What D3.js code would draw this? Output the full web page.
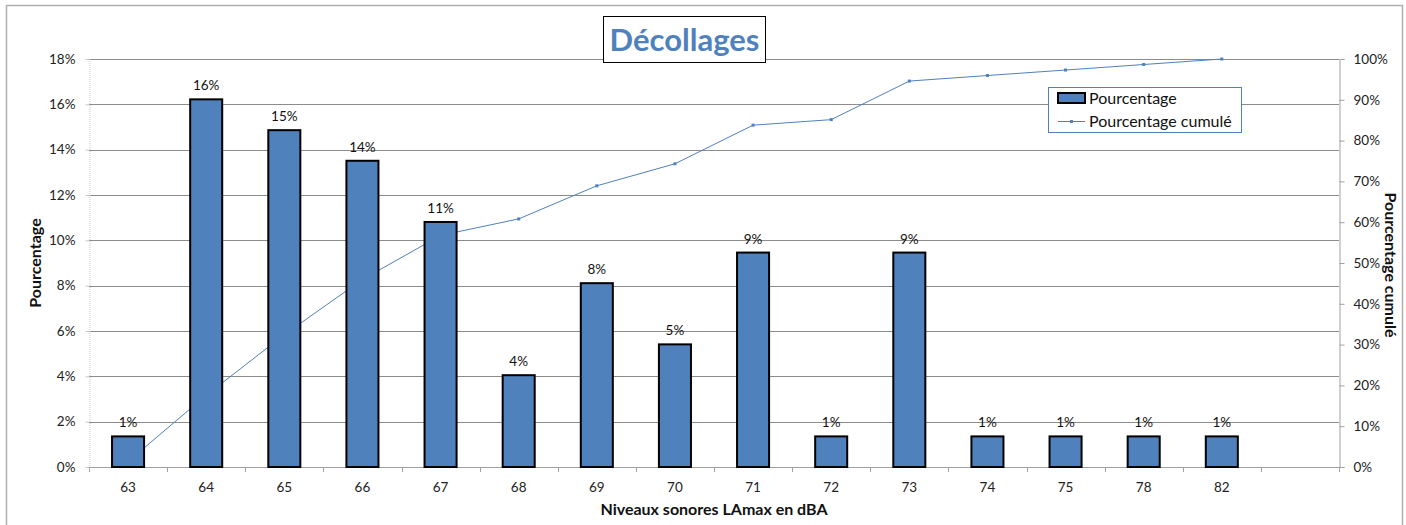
<!DOCTYPE html>
<html>
<head>
<meta charset="utf-8">
<script src="https://cdn.jsdelivr.net/npm/d3@7"></script>
<style>
html,body{margin:0;padding:0;background:#fff;}
svg{display:block;font-family:Lato,"Open Sans",sans-serif;}
</style>
</head>
<body>
<svg id="chart" width="1406" height="525"></svg>
<script>
const categories = ["63","64","65","66","67","68","69","70","71","72","73","74","75","78","82"];
const pourcentage = [1.35,16.22,14.86,13.51,10.81,4.05,8.11,5.41,9.46,1.35,9.46,1.35,1.35,1.35,1.35];
const barLabels = ["1%","16%","15%","14%","11%","4%","8%","5%","9%","1%","9%","1%","1%","1%","1%"];
const cumule = [1.35,17.57,32.43,45.95,56.76,60.81,68.92,74.32,83.78,85.14,94.59,95.95,97.30,98.65,100];
const leftTicks = [0,2,4,6,8,10,12,14,16,18];
const rightTicks = [0,10,20,30,40,50,60,70,80,90,100];
const title = "Décollages";
const xTitle = "Niveaux sonores LAmax en dBA";
const yLeftTitle = "Pourcentage";
const yRightTitle = "Pourcentage cumulé";
const legendLabels = ["Pourcentage","Pourcentage cumulé"];

const svg = d3.select("#chart");
const L = 89, R = 1339, T = 59, B = 467;
const blue = "#4F81BD";
const grid = "#8c8c8c";

// outer border
svg.append("rect").attr("x",6.5).attr("y",5.5).attr("width",1396).attr("height",530)
  .attr("fill","none").attr("stroke","#b0b0b0").attr("stroke-width",1.5);

const slots = d3.range(categories.length + 1);
const x = d3.scaleBand().domain(slots).range([L,R]).padding(0);
const yL = d3.scaleLinear().domain([0,18]).range([B,T]);
const yR = d3.scaleLinear().domain([0,100]).range([B,T]);
const bw = x.bandwidth()*0.41;

// gridlines
svg.append("g").selectAll("line").data(leftTicks.filter(d=>d>0)).join("line")
  .attr("x1",L).attr("x2",R).attr("y1",d=>Math.round(yL(d))+0.5).attr("y2",d=>Math.round(yL(d))+0.5)
  .attr("stroke",grid).attr("stroke-width",1);

// left axis
const gl = svg.append("g").attr("transform",`translate(${L+0.5},0)`)
  .call(d3.axisLeft(yL).tickValues(leftTicks).tickFormat(d=>d+"%").tickSize(4).tickPadding(10));
gl.select(".domain").attr("stroke","#c8c8c8").attr("stroke-dasharray","1,1");
gl.selectAll(".tick line").attr("stroke","#c8c8c8");
gl.selectAll("text").attr("font-size",13.5).attr("fill","#222").attr("font-family","Lato,sans-serif");

// right axis
const gr = svg.append("g").attr("transform",`translate(${R+0.5},0)`)
  .call(d3.axisRight(yR).tickValues(rightTicks).tickFormat(d=>d+"%").tickSize(5).tickPadding(9));
gr.select(".domain").attr("stroke","#a0a0a0");
gr.selectAll(".tick line").attr("stroke","#a0a0a0");
gr.selectAll("text").attr("font-size",13.5).attr("fill","#222").attr("font-family","Lato,sans-serif");

// x axis
svg.append("line").attr("x1",L).attr("x2",R).attr("y1",B+0.5).attr("y2",B+0.5).attr("stroke","#a0a0a0");
svg.append("g").selectAll("line").data(d3.range(slots.length+1)).join("line")
  .attr("x1",d=>Math.round(L + d*x.step())+0.5).attr("x2",d=>Math.round(L + d*x.step())+0.5)
  .attr("y1",B).attr("y2",B+5).attr("stroke","#a0a0a0");
svg.append("g").selectAll("text").data(categories).join("text")
  .attr("x",(d,i)=>x(i)+x.bandwidth()/2).attr("y",492)
  .attr("text-anchor","middle").attr("font-size",13.5).attr("fill","#222").text(d=>d);

// cumulative line (behind bars)
const line = d3.line().x((d,i)=>x(i)+x.bandwidth()/2).y(d=>yR(d));
svg.append("path").datum(cumule).attr("d",line).attr("fill","none").attr("stroke",blue).attr("stroke-width",1);
svg.append("g").selectAll("rect").data(cumule).join("rect")
  .attr("x",(d,i)=>x(i)+x.bandwidth()/2-1.5).attr("y",d=>yR(d)-1.5).attr("width",3).attr("height",3)
  .attr("fill",blue);

// bars
svg.append("g").selectAll("rect").data(pourcentage).join("rect")
  .attr("x",(d,i)=>x(i)+x.bandwidth()/2-bw/2).attr("y",d=>yL(d))
  .attr("width",bw).attr("height",d=>B-yL(d))
  .attr("fill",blue).attr("stroke","#000").attr("stroke-width",2);

// bar labels
svg.append("g").selectAll("text").data(pourcentage).join("text")
  .attr("x",(d,i)=>x(i)+x.bandwidth()/2).attr("y",d=>yL(d)-9)
  .attr("text-anchor","middle").attr("font-size",13.5).attr("fill","#111").text((d,i)=>barLabels[i]);

// title
svg.append("rect").attr("x",603.5).attr("y",16.5).attr("width",162).attr("height",46)
  .attr("fill","#fff").attr("stroke","#000").attr("stroke-width",1);
svg.append("text").attr("x",684.5).attr("y",51).attr("text-anchor","middle")
  .attr("font-size",31).attr("font-weight","bold").attr("fill",blue).text(title);

// axis titles
svg.append("text").attr("x",(L+R)/2).attr("y",515).attr("text-anchor","middle")
  .attr("font-size",16).attr("font-weight","bold").attr("fill","#111").text(xTitle);
svg.append("text").attr("transform","translate(41,263) rotate(-90)").attr("text-anchor","middle")
  .attr("font-size",16).attr("font-weight","bold").attr("fill","#111").text(yLeftTitle);
svg.append("text").attr("transform","translate(1385,265) rotate(90)").attr("text-anchor","middle")
  .attr("font-size",16).attr("font-weight","bold").attr("fill","#111").text(yRightTitle);

// legend
const lg = svg.append("g");
lg.append("rect").attr("x",1048.5).attr("y",87.5).attr("width",193).attr("height",45)
  .attr("fill","#fff").attr("stroke",blue).attr("stroke-width",1);
lg.append("rect").attr("x",1058).attr("y",93).attr("width",27).attr("height",10)
  .attr("fill",blue).attr("stroke","#000").attr("stroke-width",2);
lg.append("text").attr("x",1089).attr("y",104).attr("font-size",16).attr("fill","#111").text(legendLabels[0]);
lg.append("line").attr("x1",1058).attr("x2",1085).attr("y1",121.5).attr("y2",121.5).attr("stroke",blue);
lg.append("rect").attr("x",1070).attr("y",120).attr("width",3).attr("height",3).attr("fill",blue);
lg.append("text").attr("x",1089).attr("y",127).attr("font-size",16).attr("fill","#111").text(legendLabels[1]);
</script>
</body>
</html>
